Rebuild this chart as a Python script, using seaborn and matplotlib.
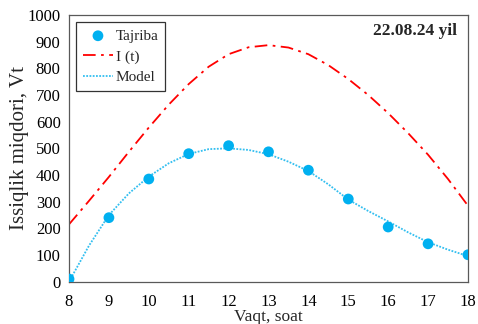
import matplotlib
matplotlib.use("Agg")
import matplotlib.pyplot as plt
import seaborn as sns
import pandas as pd

# Experimental data (Tajriba)
hours = [8, 9, 10, 11, 12, 13, 14, 15, 16, 17, 18]
tajriba = [10, 240, 385, 480, 510, 487, 418, 310, 205, 142, 101]

# Curves read at half-hour steps
t_curve = [8, 8.5, 9, 9.5, 10, 10.5, 11, 11.5, 12, 12.5, 13, 13.5, 14, 14.5,
           15, 15.5, 16, 16.5, 17, 17.5, 18]
i_t = [215, 303, 393, 487, 578, 664, 741, 806, 853, 879, 887, 878, 853, 812,
       760, 700, 632, 557, 476, 385, 285]
model = [0, 135, 250, 331, 394, 444, 479, 497, 500, 494, 478, 450, 415, 365,
         308, 265, 226, 185, 148, 120, 96]

xticks = list(range(8, 19))
yticks = list(range(0, 1001, 100))

sns.set_style("white")
plt.rcParams['font.family'] = ['Liberation Serif', 'DejaVu Serif']

fig = plt.figure(figsize=(4.78, 3.24), dpi=100)
ax = fig.add_axes([0.1444, 0.1306, 0.8346, 0.8231])

df_pts = pd.DataFrame({"x": hours, "y": tajriba})
df_curve = pd.DataFrame({"x": t_curve, "I": i_t, "M": model})

sns.lineplot(data=df_curve, x="x", y="I", ax=ax, color="#FF0000", lw=1.3,
             label="I (t)", zorder=2)
ax.lines[-1].set_dashes([7, 3, 1.5, 3])
sns.lineplot(data=df_curve, x="x", y="M", ax=ax, color="#33BFF0", lw=1.3,
             linestyle=(0, (1, 0.8)), label="Model", zorder=2)
sns.scatterplot(data=df_pts, x="x", y="y", ax=ax, color="#00B0F0", s=60,
                edgecolor="none", label="Tajriba", zorder=3)

ax.set_xlim(8, 18)
ax.set_ylim(0, 1000)
ax.set_xticks(xticks)
ax.set_yticks(yticks)
ax.tick_params(axis="both", direction="out", length=4, width=0.8,
               colors="#404040", labelcolor="black", labelsize=12, pad=2)
ax.tick_params(axis="x", pad=5)
ax.set_xlabel("Vaqt, soat", fontsize=12.5, labelpad=-1)
ax.set_ylabel("Issiqlik miqdori, Vt", fontsize=15, labelpad=-1)
for s in ax.spines.values():
    s.set_color("#595959")
    s.set_linewidth(0.9)
    s.set_visible(True)

handles, labels = ax.get_legend_handles_labels()
order = [labels.index("Tajriba"), labels.index("I (t)"), labels.index("Model")]
leg = ax.legend([handles[i] for i in order], [labels[i] for i in order],
                loc="upper left", bbox_to_anchor=(0.017, 0.973), fontsize=11,
                frameon=True, fancybox=False, edgecolor="black",
                handlelength=2.0, handletextpad=0.15, borderpad=0.45,
                labelspacing=0.45, borderaxespad=0, handleheight=0.7)
leg.get_frame().set_linewidth(0.9)

ax.text(0.972, 0.97, "22.08.24 yil", transform=ax.transAxes, ha="right",
        va="top", fontsize=12.5, fontweight="bold")

fig.savefig("out.png", dpi=100)
